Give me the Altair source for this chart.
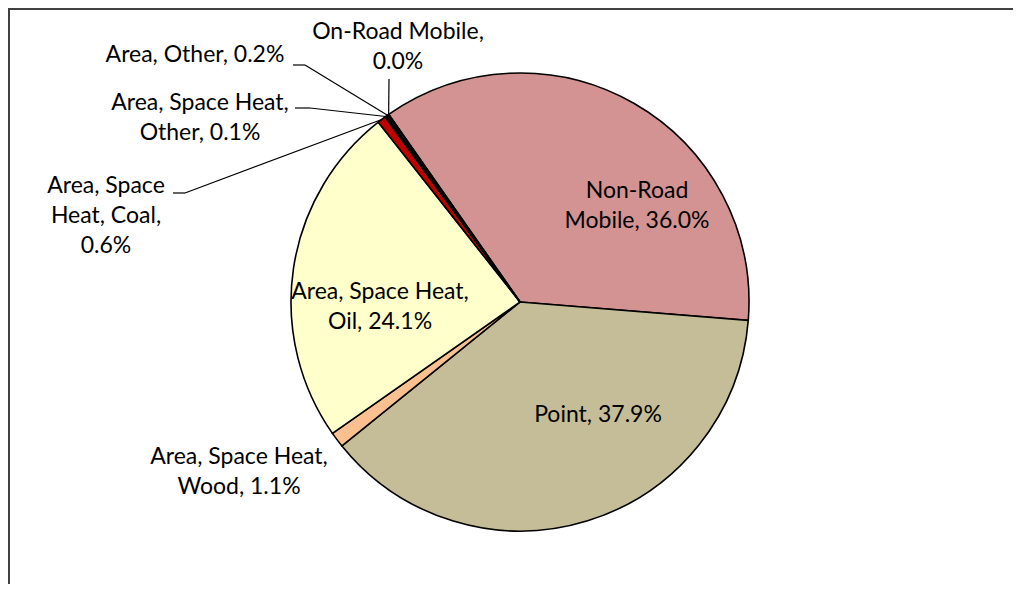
import math
import altair as alt
import numpy as np
import pandas as pd

# ---------------- data ----------------
categories = [
    "Non-Road Mobile",
    "Point",
    "Area, Space Heat, Wood",
    "Area, Space Heat, Oil",
    "Area, Space Heat, Coal",
    "Area, Space Heat, Other",
    "Area, Other",
    "On-Road Mobile",
]
shares = [36.0, 37.9, 1.1, 24.1, 0.6, 0.1, 0.2, 0.0]
label_lines = [
    ["Non-Road", "Mobile, 36.0%"],
    ["Point, 37.9%"],
    ["Area, Space Heat,", "Wood, 1.1%"],
    ["Area, Space Heat,", "Oil, 24.1%"],
    ["Area, Space", "Heat, Coal,", "0.6%"],
    ["Area, Space Heat,", "Other, 0.1%"],
    ["Area, Other, 0.2%"],
    ["On-Road Mobile,", "0.0%"],
]
slice_colors = ["#D39393", "#C4BD97", "#FAC090", "#FFFFCC", "#C00000", "#262626", "#0D0D0D", "#000000"]

# ---------------- layout (view pixels) ----------------
W, H = 1005, 576
CX, CY, R = 512, 294, 229
START_DEG = -35.0
label_x = [629, 590, 231, 372, 98, 192, 187, 390]
label_y = [190, 414, 456, 291, 185, 102, 54, 31]
leader_cats = ["Area, Other", "Area, Space Heat, Other", "Area, Space Heat, Coal", "On-Road Mobile"]
leader_elbow = [(297, 57), (302, 100), (177, 185), (381, 71)]
leader_tail = [(285, 57), (287, 100), (165, 185), (381, 71)]

s0 = math.radians(START_DEG)

pie_df = pd.DataFrame({"category": categories, "share": shares, "idx": list(range(len(categories)))})

lab_df = pd.DataFrame({"category": categories, "lines": label_lines, "lx": label_x, "ly": label_y})

# slice mid-angle edge points, derived from the shares
cum = np.cumsum(shares)
mid = cum - np.array(shares) / 2.0
edge = {}
for c, m in zip(categories, mid):
    a = s0 + 2 * math.pi * m / 100.0
    edge[c] = (CX + R * math.sin(a), CY - R * math.cos(a))

segs = []
for c, (ex, ey), (tx, ty) in zip(leader_cats, leader_elbow, leader_tail):
    px, py = edge[c]
    segs.append({"x": px, "y": py, "x2": ex, "y2": ey})
    if (tx, ty) != (ex, ey):
        segs.append({"x": tx, "y": ty, "x2": ex, "y2": ey})
seg_df = pd.DataFrame(segs)

border_df = pd.DataFrame([
    {"x": 0, "y": 1, "x2": W, "y2": 1},
    {"x": 1, "y": 0, "x2": 1, "y2": H},
])

arc = alt.Chart(pie_df).mark_arc(outerRadius=R, stroke="black", strokeWidth=1.6).encode(
    theta=alt.Theta("share:Q", stack=True, scale=alt.Scale(range=[s0, s0 + 2 * math.pi])),
    order=alt.Order("idx:Q"),
    color=alt.Color("category:N", scale=alt.Scale(domain=categories, range=slice_colors), legend=None),
    x=alt.value(CX),
    y=alt.value(CY),
)

leaders = alt.Chart(seg_df).mark_rule(color="black", strokeWidth=1.2).encode(
    x=alt.X("x:Q", scale=None), y=alt.Y("y:Q", scale=None),
    x2="x2:Q", y2="y2:Q",
)

labels = alt.Chart(lab_df).mark_text(
    font="Lato", fontSize=23, lineHeight=30, align="center", baseline="alphabetic", color="#000000"
).encode(
    x=alt.X("lx:Q", scale=None), y=alt.Y("ly:Q", scale=None), text="lines"
)

border = alt.Chart(border_df).mark_rule(color="#404040", strokeWidth=2).encode(
    x=alt.X("x:Q", scale=None), y=alt.Y("y:Q", scale=None),
    x2="x2:Q", y2="y2:Q",
)

chart = alt.layer(arc, leaders, labels, border).properties(
    width=W, height=H, autosize=alt.AutoSizeParams(type="none"), padding=0, background="white"
).configure_view(stroke=None)

chart.save("out.html", embed_options={"renderer": "svg", "actions": False})
